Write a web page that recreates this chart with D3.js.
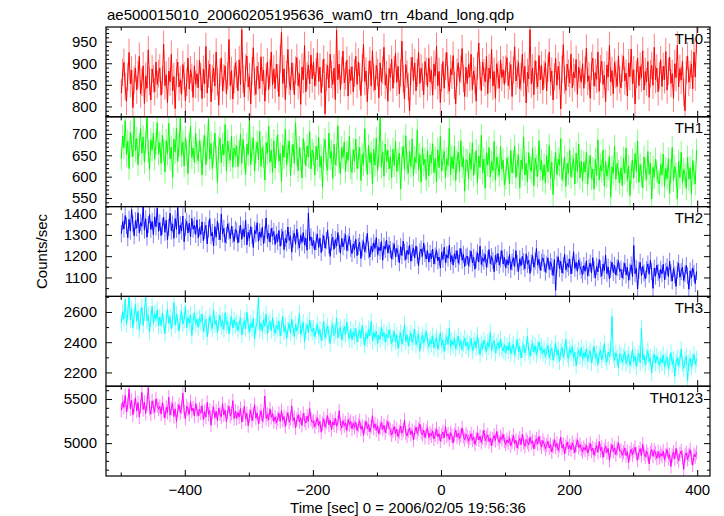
<!DOCTYPE html>
<html><head><meta charset="utf-8">
<script src="https://cdn.jsdelivr.net/npm/d3@7"></script>
<style>
body{margin:0;background:#fff}
svg{display:block}
text{font-family:"Liberation Sans",Arial,Helvetica,sans-serif;fill:#000}
</style>
</head><body>
<svg id="c" width="724" height="516"></svg>
<script>
const titleText = "ae500015010_20060205195636_wam0_trn_4band_long.qdp";
const xLabelText = "Time [sec] 0 = 2006/02/05 19:56:36";
const yLabelText = "Counts/sec";
const bandNames = ["TH0", "TH1", "TH2", "TH3", "TH0123"];
const bandColors = ["#ff0000", "#00ff00", "#0000ff", "#00ffff", "#ff00ff"];
const tStart = -500, binSize = 2;
const errHalf = [32, 27, 40, 55, 80];
const xDomain = [-523, 420];
const xMajor = [-400, -200, 0, 200, 400];
const xMinorStep = 100;
const yDomains = [[776, 984], [530, 740], [1011, 1433], [2109, 2703], [4628, 5645]];
const yMajor = [[800, 850, 900, 950], [550, 600, 650, 700], [1100, 1200, 1300, 1400], [2200, 2400, 2600], [5000, 5500]];
const yMinorStep = [10, 10, 50, 100, 100];

const th0 = [
831,879,902,846,812,868,925,853,884,797,861,889,838,873,916,829,856,894,807,870,842,931,858,815,887,864,834,903,851,876,
889,826,861,944,848,873,809,882,857,921,836,869,795,878,903,845,862,828,897,871,813,856,912,840,885,867,821,894,851,876,
843,907,869,818,886,852,939,831,875,898,811,864,889,847,926,858,803,879,912,836,866,894,829,871,955,848,883,817,862,901,
874,836,908,851,978,863,822,889,917,845,869,806,882,936,857,828,893,871,842,915,859,884,812,868,903,839,877,926,850,887,
841,898,866,823,910,972,853,887,816,874,932,859,838,901,869,827,884,913,848,876,805,891,862,941,834,871,896,852,919,864,
903,847,880,924,858,891,832,876,910,783,867,895,843,921,874,851,889,816,977,862,898,839,883,928,855,871,907,824,886,860,
892,834,877,916,851,903,869,825,889,944,858,882,811,873,906,847,929,866,838,895,879,820,901,857,884,937,849,874,812,888,
867,909,842,885,923,856,893,829,878,951,864,817,897,875,846,790,882,914,859,901,836,877,926,853,889,868,827,904,881,845,
912,857,884,826,898,871,939,848,881,809,866,904,842,893,925,861,835,887,873,918,849,806,879,901,858,886,934,865,823,891,
853,897,868,921,839,882,861,812,894,947,871,836,903,878,857,916,829,889,864,932,847,881,819,899,873,842,908,867,885,851,
886,913,848,871,897,823,884,938,859,876,902,841,868,921,855,893,808,879,864,978,852,889,827,906,873,845,918,861,896,838,
874,901,836,889,926,857,882,815,868,911,849,893,872,794,886,943,861,837,898,877,854,921,843,880,866,909,828,891,874,856,
899,842,883,935,858,871,819,894,912,847,878,863,926,835,887,905,851,872,811,896,868,941,857,883,829,902,874,846,917,862,
843,888,916,859,877,824,901,869,933,852,885,806,874,912,848,893,866,929,838,881,857,904,821,876,895,849,937,862,889,834,
871,908,846,893,862,927,838,881,914,853,876,819,899,867,942,845,888,861,905,832,790,884,917,856,873,898,841,926,868,955];

const th1 = [
642,695,668,731,651,683,619,704,672,647,738,661,689,628,675,712,655,693,634,681,740,659,617,686,663,702,641,677,726,654,
679,631,697,662,611,684,653,725,642,669,598,688,657,714,636,673,739,649,681,625,692,660,607,676,718,645,667,633,701,656,
637,685,659,604,671,696,628,663,735,641,678,619,655,702,646,587,669,690,633,676,651,722,614,683,657,638,695,622,667,649,
672,623,658,699,631,687,645,605,676,652,733,628,664,691,613,657,681,639,706,624,668,647,592,679,655,718,634,662,610,684,
620,667,698,636,654,589,673,645,711,627,659,683,603,648,676,631,726,652,614,668,641,597,689,657,625,672,646,705,618,662,
653,604,671,639,692,622,648,575,664,687,631,615,702,643,659,596,676,628,651,719,634,607,668,645,681,612,657,638,694,621,
610,663,637,688,619,645,668,591,652,629,712,641,605,673,633,656,583,664,627,690,614,649,737,622,658,601,676,635,662,618,
647,598,664,626,683,612,639,655,571,642,671,617,696,631,608,659,624,688,603,645,633,709,615,652,587,668,627,641,593,661,
602,651,632,677,609,643,588,663,621,694,614,638,659,597,642,626,713,605,647,618,671,591,636,657,612,684,623,645,566,639,
638,595,654,617,679,603,632,661,586,648,622,697,609,641,573,656,627,668,599,635,614,682,592,646,625,603,671,618,639,581,
597,644,622,583,661,609,635,672,598,627,651,574,639,618,693,604,631,588,656,621,612,667,579,643,625,601,684,616,638,592,
628,586,649,611,673,596,634,558,619,657,604,641,627,689,593,615,646,577,631,608,662,599,624,642,583,655,612,676,597,636,
589,634,611,657,582,624,649,596,618,571,641,603,686,592,627,613,662,578,636,601,619,648,552,623,607,671,594,631,612,585,
621,579,643,608,667,591,625,556,611,639,597,654,612,683,587,628,603,574,646,617,593,659,606,631,548,622,599,641,613,588,
583,628,604,653,577,619,596,642,561,613,668,591,624,606,549,636,598,657,585,617,603,572,646,594,621,559,638,607,583,662];

const th2 = [
1305,1362,1328,1391,1344,1287,1373,1318,1419,1351,1296,1367,1332,1404,1310,1358,1341,1431,1322,1376,1289,1349,1396,1326,1363,1301,1385,1338,1426,1317,
1358,1297,1341,1383,1312,1369,1276,1335,1402,1319,1352,1284,1377,1326,1429,1303,1347,1318,1389,1268,1336,1364,1309,1355,1291,1378,1327,1345,1302,1371,
1287,1334,1302,1361,1273,1319,1345,1258,1328,1376,1295,1312,1248,1339,1289,1364,1316,1277,1398,1305,1331,1264,1297,1352,1318,1283,1341,1302,1269,1326,
1318,1262,1305,1346,1279,1327,1291,1368,1253,1312,1284,1339,1297,1241,1322,1305,1357,1270,1314,1288,1336,1259,1301,1379,1283,1309,1266,1331,1294,1316,
1255,1302,1268,1321,1247,1289,1316,1231,1284,1262,1337,1274,1296,1219,1281,1308,1256,1327,1271,1239,1298,1265,1311,1252,1285,1228,1403,1273,1291,1248,
1276,1229,1268,1304,1241,1285,1217,1263,1296,1238,1274,1322,1251,1199,1266,1289,1232,1278,1247,1311,1258,1214,1283,1244,1269,1301,1226,1262,1293,1237,
1212,1258,1231,1279,1203,1246,1265,1189,1238,1272,1221,1254,1307,1229,1196,1248,1219,1263,1236,1287,1208,1242,1225,1269,1181,1247,1232,1276,1215,1251,
1231,1186,1224,1258,1197,1236,1212,1169,1245,1203,1271,1219,1183,1228,1207,1252,1176,1216,1239,1192,1248,1205,1155,1221,1234,1199,1262,1213,1187,1226,
1172,1214,1188,1233,1163,1201,1229,1178,1196,1144,1218,1185,1242,1169,1207,1191,1251,1174,1203,1158,1212,1186,1226,1167,1199,1236,1181,1209,1152,1194,
1201,1157,1189,1224,1168,1195,1139,1183,1216,1172,1247,1161,1192,1176,1209,1148,1186,1231,1165,1198,1179,1127,1204,1171,1213,1158,1187,1226,1163,1194,
1146,1183,1159,1208,1137,1172,1194,1151,1226,1166,1128,1188,1155,1199,1174,1141,1211,1162,1181,1119,1169,1203,1148,1177,1236,1158,1185,1134,1171,1192,
1168,1125,1159,1192,1138,1173,1151,1109,1184,1040,1163,1197,1142,1176,1121,1155,1209,1136,1166,1148,1187,1117,1158,1221,1143,1171,1129,1181,1152,1134,
1114,1156,1129,1178,1107,1145,1168,1121,1193,1137,1098,1152,1126,1184,1141,1106,1163,1132,1205,1118,1149,1093,1138,1172,1123,1157,1111,1146,1179,1128,
1139,1098,1131,1167,1112,1148,1087,1126,1159,1104,1250,1118,1143,1046,1134,1171,1109,1152,1121,1093,1137,1164,1115,1181,1127,1049,1144,1106,1158,1124,
1096,1138,1117,1162,1089,1129,1151,1104,1176,1121,1083,1142,1112,1058,1134,1167,1101,1127,1149,1086,1118,1156,1109,1045,1131,1098,1145,1119,1071,1128];

const th3 = [
2528,2601,2553,2684,2519,2587,2716,2546,2622,2497,2575,2649,2538,2606,2483,2569,2631,2512,2594,2705,2541,2579,2468,2558,2637,2523,2589,2552,2614,2506,
2567,2509,2593,2531,2458,2552,2618,2524,2571,2489,2546,2663,2513,2587,2536,2474,2559,2602,2521,2548,2639,2496,2563,2528,2581,2445,2537,2596,2518,2552,
2498,2561,2533,2587,2471,2519,2552,2436,2508,2574,2526,2489,2613,2517,2545,2463,2531,2578,2502,2541,2482,2596,2514,2538,2455,2527,2569,2493,2549,2511,
2532,2476,2519,2561,2448,2507,2543,2489,2598,2513,2465,2528,2494,2557,2421,2501,2536,2705,2482,2524,2471,2549,2506,2587,2458,2517,2539,2478,2562,2496,
2458,2513,2487,2539,2442,2496,2571,2468,2509,2426,2483,2527,2461,2552,2494,2437,2518,2473,2506,2591,2452,2489,2531,2404,2476,2515,2463,2548,2491,2469,
2492,2437,2475,2521,2448,2486,2412,2463,2538,2429,2471,2506,2452,2391,2483,2517,2444,2468,2559,2431,2479,2498,2415,2462,2503,2449,2534,2457,2421,2488,
2416,2468,2437,2492,2403,2452,2481,2426,2511,2438,2379,2459,2423,2487,2442,2536,2408,2463,2431,2474,2392,2447,2419,2498,2436,2465,2401,2455,2429,2481,
2438,2393,2427,2472,2401,2446,2359,2418,2463,2387,2431,2519,2405,2449,2376,2424,2461,2398,2432,2487,2383,2419,2455,2341,2412,2446,2394,2428,2471,2403,
2371,2416,2388,2443,2362,2405,2429,2354,2398,2462,2379,2414,2338,2401,2436,2385,2493,2367,2409,2382,2424,2356,2397,2441,2373,2412,2349,2391,2427,2376,
2398,2351,2386,2425,2342,2379,2408,2361,2447,2372,2318,2393,2356,2414,2384,2335,2401,2368,2469,2347,2389,2411,2329,2376,2397,2358,2421,2364,2342,2383,
2331,2374,2346,2398,2323,2362,2387,2314,2357,2419,2338,2372,2296,2351,2384,2329,2366,2442,2341,2308,2361,2393,2334,2377,2318,2355,2402,2343,2369,2326,
2354,2308,2341,2379,2297,2336,2362,2281,2328,2393,2315,2349,2271,2337,2366,2302,2341,2418,2319,2288,2357,2326,2371,2294,2333,2243,2312,2346,2305,2364,
2287,2329,2301,2356,2276,2318,2343,2264,2311,2372,2293,2326,2252,2317,2349,2284,2322,2391,2298,2268,2336,2305,2349,2570,2313,2281,2329,2296,2231,2324,
2312,2267,2301,2338,2259,2294,2321,2246,2287,2352,2273,2309,2238,2296,2327,2264,2495,2283,2316,2251,2302,2344,2271,2298,2197,2285,2319,2262,2308,2279,
2248,2291,2263,2316,2237,2275,2302,2226,2268,2331,2252,2287,2174,2269,2298,2241,2284,2353,2259,2226,2281,2307,2145,2264,2293,2238,2276,2319,2253,2288];

const th0123 = [
5372,5468,5405,5541,5352,5437,5612,5389,5486,5318,5421,5513,5364,5459,5297,5418,5575,5381,5463,5336,5447,5630,5393,5329,5478,5412,5351,5502,5426,5385,
5417,5329,5458,5371,5284,5406,5347,5521,5318,5392,5453,5301,5389,5246,5368,5437,5342,5404,5566,5357,5279,5419,5386,5325,5471,5363,5398,5307,5444,5376,
5311,5386,5339,5424,5268,5357,5295,5462,5326,5372,5203,5348,5409,5287,5361,5254,5398,5331,5297,5446,5319,5375,5242,5352,5417,5306,5338,5481,5277,5363,
5281,5347,5296,5392,5238,5319,5418,5274,5336,5197,5308,5371,5255,5327,5436,5283,5342,5221,5301,5367,5249,5314,5533,5278,5326,5263,5389,5292,5335,5247,
5297,5231,5274,5338,5246,5369,5259,5302,5188,5281,5343,5236,5277,5421,5254,5291,5173,5266,5321,5242,5289,5201,5338,5262,5227,5306,5249,5392,5271,5235,
5253,5186,5237,5289,5198,5246,5124,5219,5276,5181,5238,5311,5207,5262,5153,5243,5204,5282,5192,5229,5367,5216,5171,5255,5198,5231,5142,5268,5211,5247,
5162,5226,5179,5238,5141,5203,5254,5157,5196,5089,5182,5247,5163,5211,5128,5187,5312,5171,5219,5146,5198,5104,5176,5231,5158,5203,5119,5185,5244,5167,
5151,5092,5138,5187,5106,5159,5073,5128,5194,5112,5146,5262,5117,5082,5139,5171,5098,5143,5035,5124,5181,5109,5157,5218,5121,5096,5148,5064,5133,5176,
5061,5113,5082,5139,5047,5094,5162,5071,5108,5023,5089,5126,5058,5191,5077,5104,5042,5118,5083,5003,5097,5146,5068,5112,5054,5087,5173,5076,5039,5101,
5074,5021,5058,5106,5033,5069,4987,5048,5117,5036,5079,5009,5061,5148,5027,5064,5093,5018,5055,4972,5046,5088,5031,5132,5052,5007,5073,5042,5099,5024,
4987,5036,5004,5061,4971,5019,5088,4993,5032,4948,5012,5057,4982,5103,5007,4964,5041,5016,4979,5066,4998,5027,4935,5013,5049,4989,5076,5002,4957,5031,
4991,4938,4976,5022,4947,4983,4901,4962,5041,4953,4997,4918,4971,5068,4944,4986,4879,4958,5012,4937,4974,4926,5004,4961,4892,4979,5037,4949,4983,4932,
4903,4952,4921,4978,4886,4934,4997,4909,4946,4862,4928,4971,4897,5019,4915,4953,4838,4924,4966,4893,4941,4807,4919,4982,4904,4947,4872,4935,5006,4911,
4917,4863,4898,4946,4857,4903,4779,4884,4931,4868,4912,4953,4876,4809,4895,4938,4859,4991,4882,4846,4908,4871,4764,4893,4927,4852,4916,4887,4829,4904,
4838,4884,4853,4909,4812,4866,4931,4827,4871,4736,4859,4897,4821,4942,4848,4803,4875,4912,4839,4706,4862,4891,4817,4868,4927,4834,4751,4873,4846,4895];

const seriesList = [th0, th1, th2, th3, th0123];

// ---------- layout ----------
const plotL = 106, plotR = 710, plotT = 27, plotB = 476;
const nP = seriesList.length;
const pH = (plotB - plotT) / nP;
const FONT = '"Liberation Sans", Arial, Helvetica, sans-serif';
const svg = d3.select("#c");
const defs = svg.append("defs");

const x = d3.scaleLinear().domain(xDomain).range([plotL, plotR]);
const xMinor = d3.range(Math.ceil(xDomain[0] / xMinorStep) * xMinorStep, xDomain[1] + 1e-9, xMinorStep)
  .filter(v => !xMajor.includes(v));
const fmt = d => d < 0 ? "\u2212" + Math.abs(d) : String(d);

function styleAxis(g) {
  g.select(".domain").remove();
  g.selectAll("line").attr("stroke", "#000").attr("stroke-width", 1);
  g.attr("font-size", 15).attr("font-family", FONT);
  g.selectAll("text").attr("fill", "#000");
}

seriesList.forEach((vals, p) => {
  const top = plotT + p * pH, bot = top + pH;
  const y = d3.scaleLinear().domain(yDomains[p]).range([bot, top]);
  const times = vals.map((_, i) => tStart + binSize * (i + 0.5));
  const col = bandColors[p];
  const e = errHalf[p];

  defs.append("clipPath").attr("id", "clip" + p)
    .append("rect").attr("x", plotL).attr("y", top).attr("width", plotR - plotL).attr("height", pH);

  const g = svg.append("g").attr("clip-path", `url(#clip${p})`);
  const errPath = vals.map((v, i) => `M${x(times[i])},${y(v - e)}V${y(v + e)}`).join("");
  g.append("path").attr("d", errPath).attr("stroke", col).attr("stroke-opacity", 0.5)
    .attr("stroke-width", 1).attr("fill", "none");
  const line = d3.line().x((d, i) => x(times[i])).y(d => y(d));
  g.append("path").datum(vals).attr("d", line).attr("stroke", col)
    .attr("stroke-width", 1).attr("fill", "none");

  const yMin = d3.range(Math.ceil(yDomains[p][0] / yMinorStep[p]) * yMinorStep[p], yDomains[p][1], yMinorStep[p])
    .filter(v => !yMajor[p].includes(v));
  svg.append("g").attr("transform", `translate(${plotL},0)`)
    .call(d3.axisLeft(y).tickValues(yMajor[p]).tickSize(-6).tickPadding(9).tickFormat(d3.format("d")))
    .call(styleAxis);
  svg.append("g").attr("transform", `translate(${plotL},0)`)
    .call(d3.axisLeft(y).tickValues(yMin).tickSize(-3).tickFormat(""))
    .call(styleAxis);
  svg.append("g").attr("transform", `translate(${plotR},0)`)
    .call(d3.axisRight(y).tickValues(yMajor[p]).tickSize(-6).tickFormat(""))
    .call(styleAxis);
  svg.append("g").attr("transform", `translate(${plotR},0)`)
    .call(d3.axisRight(y).tickValues(yMin).tickSize(-3).tickFormat(""))
    .call(styleAxis);

  svg.append("g").attr("transform", `translate(0,${top})`)
    .call(d3.axisTop(x).tickValues(xMajor).tickSize(-6).tickFormat(""))
    .call(styleAxis);
  svg.append("g").attr("transform", `translate(0,${top})`)
    .call(d3.axisTop(x).tickValues(xMinor).tickSize(-3.5).tickFormat(""))
    .call(styleAxis);
  const last = p === nP - 1;
  svg.append("g").attr("transform", `translate(0,${bot})`)
    .call(d3.axisBottom(x).tickValues(xMajor).tickSize(-6).tickPadding(8).tickFormat(last ? fmt : ""))
    .call(styleAxis);
  svg.append("g").attr("transform", `translate(0,${bot})`)
    .call(d3.axisBottom(x).tickValues(xMinor).tickSize(-3.5).tickFormat(""))
    .call(styleAxis);

  svg.append("rect").attr("x", plotL).attr("y", top).attr("width", plotR - plotL).attr("height", pH)
    .attr("fill", "none").attr("stroke", "#000").attr("stroke-width", 1.2);

  svg.append("text").attr("x", 703).attr("y", top + 16.5).attr("text-anchor", "end")
    .attr("font-size", 15).text(bandNames[p]);
});

svg.append("text").attr("x", 107).attr("y", 20).attr("font-size", 15).text(titleText);
svg.append("text").attr("x", (plotL + plotR) / 2).attr("y", 513).attr("text-anchor", "middle")
  .attr("font-size", 15).text(xLabelText);
svg.append("text").attr("transform", `translate(47,${(plotT + plotB) / 2}) rotate(-90)`)
  .attr("text-anchor", "middle").attr("font-size", 15).text(yLabelText);
</script>
</body></html>
